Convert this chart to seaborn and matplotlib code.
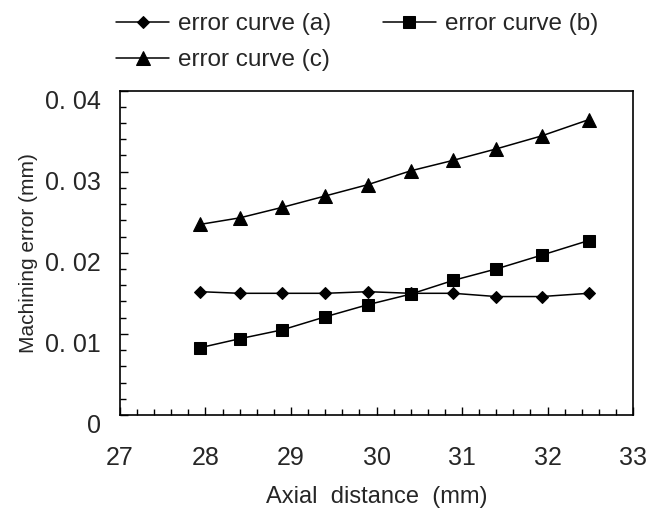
import seaborn as sns
import matplotlib.pyplot as plt
import matplotlib.transforms as mtransforms
from matplotlib.ticker import MultipleLocator
import pandas as pd

sns.set_style("white")
plt.rcParams['font.family'] = ['Liberation Sans', 'DejaVu Sans']

# data
axial = [27.94, 28.40, 28.90, 29.40, 29.90, 30.40, 30.90, 31.40, 31.93, 32.48]
curve_a = [0.0152, 0.0150, 0.0150, 0.0150, 0.0152, 0.0150, 0.0150, 0.0146, 0.0146, 0.0150]
curve_b = [0.0083, 0.0094, 0.0105, 0.0121, 0.0136, 0.0149, 0.0166, 0.0180, 0.0197, 0.0215]
curve_c = [0.0235, 0.0243, 0.0256, 0.0270, 0.0284, 0.0301, 0.0314, 0.0328, 0.0344, 0.0364]
names = ["error curve (a)", "error curve (b)", "error curve (c)"]
xticks = [27, 28, 29, 30, 31, 32, 33]
yticks = [0, 0.01, 0.02, 0.03, 0.04]
ytick_labels = ["0", "0. 01", "0. 02", "0. 03", "0. 04"]

fig = plt.figure(figsize=(6.61, 5.09), dpi=100)
ax = fig.add_axes([0.1815, 0.1847, 0.7762, 0.6375])

markers = ['D', 's', '^']
msizes = [6, 8, 9.5]
for vals, nm, mk, ms in zip([curve_a, curve_b, curve_c], names, markers, msizes):
    df = pd.DataFrame({"x": axial, "y": vals})
    sns.lineplot(data=df, x="x", y="y", ax=ax, color="black", linewidth=1.1,
                 marker=mk, markersize=ms, markeredgecolor="black", label=nm)

ax.set_xlim(27, 33)
ax.set_ylim(0, 0.04)
ax.set_xticks(xticks)
ax.set_xticklabels([str(t) for t in xticks])
ax.set_yticks(yticks)
ax.set_yticklabels(ytick_labels)
ax.xaxis.set_minor_locator(MultipleLocator(0.2))
ax.yaxis.set_minor_locator(MultipleLocator(0.002))

ax.tick_params(axis='both', which='both', direction='in', color='black',
               top=False, right=False, left=True, bottom=True)
ax.tick_params(axis='both', which='major', length=6, width=1)
ax.tick_params(axis='both', which='minor', length=4, width=1)
ax.tick_params(axis='x', which='major', labelsize=18, pad=22)
ax.tick_params(axis='y', which='major', labelsize=18, pad=14)

# y labels sit a little below their ticks in the original
offset = mtransforms.ScaledTranslation(0, -9 / 100, fig.dpi_scale_trans)
for lab in ax.get_yticklabels():
    lab.set_transform(lab.get_transform() + offset)

for sp in ax.spines.values():
    sp.set_color("black")
    sp.set_linewidth(1.2)

ax.set_xlabel("Axial  distance  (mm)", fontsize=17, labelpad=12)
ax.set_ylabel("Machining error (mm)", fontsize=15, labelpad=5)

handles, labels = ax.get_legend_handles_labels()
order = [0, 2, 1]  # row-wise: (a) (b) / (c)
ax.legend(handles=[handles[i] for i in order], labels=[labels[i] for i in order],
          ncol=2, frameon=False, fontsize=17.5,
          loc='upper left', bbox_to_anchor=(0.168, 0.984), bbox_transform=fig.transFigure,
          handlelength=2.2, handletextpad=0.37, columnspacing=2.1,
          labelspacing=0.58, borderaxespad=0.0, borderpad=0.2)

plt.savefig("out.png", dpi=100)
